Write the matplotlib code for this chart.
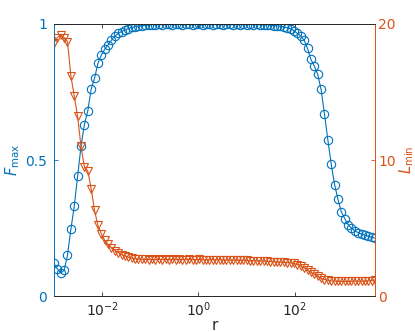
import numpy as np
import matplotlib
matplotlib.use('Agg')
import matplotlib.pyplot as plt

blue = '#0072BD'
orange = '#D95319'
dark = '#262626'

# r sweep (log spaced)
r = np.logspace(-3, 3.67, 96)

F_max = [0.12, 0.10, 0.085, 0.095, 0.15, 0.245, 0.33, 0.44, 0.55, 0.63,
         0.68, 0.76, 0.80, 0.855, 0.885, 0.907, 0.923, 0.94, 0.955, 0.965,
         0.972, 0.978, 0.983, 0.987, 0.99, 0.992, 0.994, 0.995, 0.996, 0.997,
         0.997, 0.998, 0.997, 0.998, 0.998, 0.997, 0.998, 0.998, 0.997, 0.998,
         0.998, 0.997, 0.998, 0.998, 0.996, 0.998, 0.998, 0.997, 0.998, 0.998,
         0.997, 0.998, 0.998, 0.997, 0.998, 0.997, 0.998, 0.997, 0.998, 0.997,
         0.998, 0.997, 0.996, 0.997, 0.995, 0.994, 0.993, 0.991, 0.989, 0.986,
         0.982, 0.975, 0.965, 0.955, 0.94, 0.91, 0.87, 0.845, 0.815, 0.76,
         0.67, 0.575, 0.485, 0.41, 0.355, 0.31, 0.285, 0.262, 0.25, 0.24,
         0.233, 0.228, 0.224, 0.22, 0.216, 0.213]

L_min = [18.6, 19.0, 19.2, 19.0, 18.7, 16.2, 14.7, 13.2, 11.0, 9.5,
         9.2, 7.9, 6.3, 5.2, 4.6, 4.1, 3.8, 3.55, 3.35, 3.2,
         3.05, 2.95, 2.85, 2.8, 2.75, 2.72, 2.7, 2.7, 2.68, 2.7,
         2.68, 2.7, 2.68, 2.7, 2.68, 2.7, 2.68, 2.7, 2.68, 2.68,
         2.7, 2.68, 2.68, 2.7, 2.66, 2.68, 2.66, 2.68, 2.66, 2.66,
         2.65, 2.66, 2.64, 2.65, 2.63, 2.64, 2.62, 2.62, 2.6, 2.6,
         2.58, 2.58, 2.56, 2.55, 2.54, 2.52, 2.5, 2.5, 2.48, 2.46,
         2.44, 2.4, 2.32, 2.22, 2.08, 1.92, 1.76, 1.6, 1.45, 1.32,
         1.22, 1.16, 1.12, 1.1, 1.1, 1.08, 1.08, 1.08, 1.08, 1.1,
         1.1, 1.1, 1.1, 1.12, 1.14, 1.2]

fig = plt.figure(figsize=(4.15, 3.32), dpi=100)
ax = fig.add_axes([0.130, 0.108, 0.774, 0.820])
ax2 = ax.twinx()

ax.plot(r, F_max, '-o', color=blue, mfc='none', ms=6, mew=0.8, lw=0.8)
ax2.plot(r, L_min, '-v', color=orange, mfc='none', ms=6, mew=0.8, lw=0.8)

ax.set_xscale('log')
ax.set_xlim(r[0], r[-1])
ax.set_ylim(0, 1)
ax2.set_ylim(0, 20)
ax.set_xticks([1e-2, 1, 1e2])
ax.xaxis.set_minor_locator(matplotlib.ticker.NullLocator())
ax.set_yticks([0, 0.5, 1])
ax.set_yticklabels(['0', '0.5', '1'])
ax2.set_yticks([0, 10, 20])

ax.tick_params(axis='x', direction='in', top=True, length=3, width=0.6,
               colors=dark, labelsize=10, pad=3)
ax.tick_params(axis='y', direction='in', length=3, width=0.6,
               colors=blue, labelsize=10, pad=5)
ax2.tick_params(axis='y', direction='in', length=3, width=0.6,
                colors=orange, labelsize=10, pad=2)

for a in (ax, ax2):
    a.spines['top'].set_color(dark)
    a.spines['bottom'].set_color(dark)
    a.spines['left'].set_color(blue)
    a.spines['right'].set_color(orange)
    for s in a.spines.values():
        s.set_linewidth(0.6)

ax.set_xlabel('r', fontsize=11, color=dark, labelpad=-1)
ax.set_ylabel(r'$F_{\rm max}$', fontsize=10.5, color=blue, labelpad=2)
ax2.set_ylabel(r'$L_{\rm min}$', fontsize=10.5, color=orange)
ax2.yaxis.set_label_coords(1.07, 0.5)

fig.savefig('out.png', dpi=100)
